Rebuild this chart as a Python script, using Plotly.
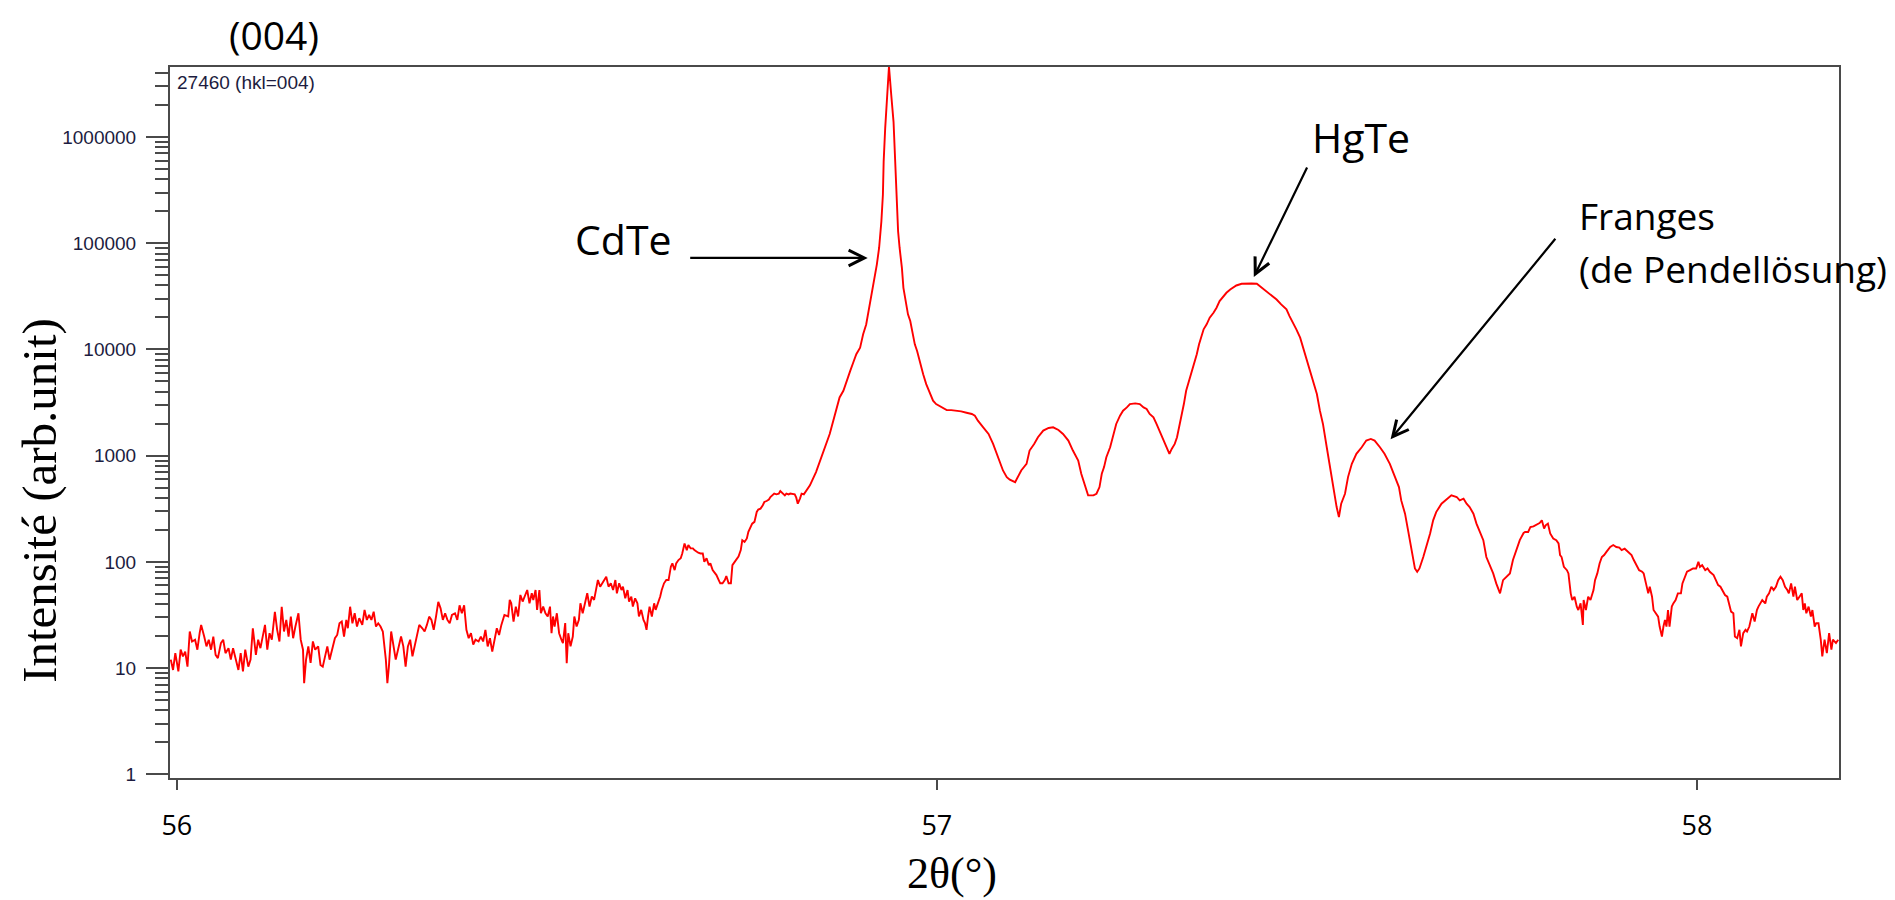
import plotly.graph_objects as go

# ---- data: 2theta (deg) and intensity (arb. unit) ----
theta_bg = [55.992, 55.995, 55.998, 56.002, 56.005, 56.008, 56.011, 56.014, 56.017, 56.020,
            56.024, 56.027, 56.030, 56.032, 56.036, 56.039, 56.042, 56.045, 56.048, 56.051,
            56.054, 56.058, 56.061, 56.064, 56.068, 56.071, 56.074, 56.077, 56.081, 56.084,
            56.087, 56.090, 56.094, 56.097, 56.100, 56.104, 56.107, 56.110, 56.113, 56.116,
            56.119, 56.122, 56.125, 56.129, 56.132, 56.135, 56.138, 56.141, 56.144, 56.147,
            56.150, 56.153, 56.156, 56.160, 56.163, 56.166, 56.1675, 56.170, 56.173, 56.176,
            56.179, 56.182, 56.186, 56.189, 56.192, 56.195, 56.198, 56.201, 56.204, 56.208,
            56.211, 56.214, 56.217, 56.220, 56.223, 56.225, 56.228, 56.231, 56.234, 56.237,
            56.240, 56.244, 56.247, 56.250, 56.253, 56.256, 56.259, 56.262, 56.265, 56.268,
            56.271, 56.275, 56.277, 56.279, 56.282, 56.285, 56.288, 56.291, 56.295, 56.298,
            56.301, 56.304, 56.307, 56.310, 56.313, 56.316, 56.319, 56.323, 56.326, 56.329,
            56.332, 56.335, 56.338, 56.341, 56.344, 56.347, 56.350, 56.353, 56.356, 56.359,
            56.362, 56.366, 56.369, 56.372, 56.375, 56.378, 56.381, 56.384, 56.387, 56.390,
            56.393, 56.397, 56.400, 56.403, 56.406, 56.409, 56.412, 56.415, 56.418, 56.421,
            56.424, 56.427, 56.431]
int_bg = [12.0, 9.6, 13.8, 9.3, 14.9, 12.9, 14.3, 10.3, 22.1, 17.8,
          18.5, 14.9, 21.3, 25.5, 19.8, 16.0, 18.5, 14.9, 19.8, 13.3,
          12.4, 17.2, 18.5, 13.8, 15.4, 12.0, 15.4, 12.4, 9.6, 13.8,
          9.3, 14.9, 10.3, 12.0, 23.7, 13.3, 18.5, 15.4, 19.8, 25.5,
          14.9, 21.3, 18.5, 33.9, 22.9, 17.8, 37.8, 22.1, 28.4, 19.8,
          30.5, 19.1, 24.6, 32.8, 18.5, 14.9, 7.2, 12.0, 16.0, 11.2,
          17.8, 14.9, 16.0, 10.7, 10.3, 12.9, 16.0, 12.0, 14.9, 19.1,
          20.5, 26.4, 27.4, 19.8, 28.4, 23.7, 37.8, 26.4, 32.8, 24.6,
          29.5, 25.5, 35.3, 28.4, 31.6, 28.4, 33.9, 24.6, 26.4, 24.6,
          22.1, 12.0, 7.2, 10.3, 22.1, 16.6, 12.0, 14.9, 19.8, 16.0,
          10.3, 16.0, 18.5, 12.9, 16.6, 19.8, 25.5, 23.7, 22.1, 25.5,
          30.5, 28.4, 22.9, 30.5, 42.0, 36.5, 28.4, 32.8, 28.4, 26.4,
          31.6, 32.8, 28.4, 39.0, 32.8, 39.0, 22.9, 19.1, 21.3, 16.6,
          18.5, 17.8, 19.8, 17.8, 22.9, 16.0, 19.1, 14.3, 18.5, 23.7,
          20.5, 25.5, 31.6]

theta_rise = [56.436, 56.438, 56.440, 56.443, 56.446, 56.449, 56.452, 56.455, 56.458, 56.461,
              56.464, 56.467, 56.469, 56.472, 56.474, 56.477, 56.479, 56.482, 56.485, 56.488,
              56.491, 56.493, 56.495, 56.497, 56.500, 56.503, 56.506, 56.508, 56.511, 56.513,
              56.515, 56.518, 56.521, 56.523, 56.526, 56.529, 56.531, 56.534, 56.537, 56.540,
              56.543, 56.546, 56.549, 56.551, 56.554, 56.557, 56.560, 56.563, 56.565, 56.568,
              56.571, 56.574, 56.577, 56.579, 56.582, 56.585, 56.587, 56.590, 56.593, 56.595,
              56.598, 56.600, 56.603, 56.606, 56.608, 56.611, 56.614, 56.616, 56.618, 56.620,
              56.622, 56.625, 56.628, 56.630, 56.633, 56.636, 56.638, 56.641, 56.644, 56.647,
              56.650, 56.652, 56.655, 56.657, 56.660, 56.663, 56.665, 56.668, 56.671, 56.673,
              56.676, 56.679, 56.681, 56.684, 56.686, 56.689, 56.692, 56.694, 56.697, 56.700,
              56.702, 56.705, 56.707, 56.710, 56.713, 56.715, 56.718, 56.721, 56.723, 56.726,
              56.729, 56.731, 56.734, 56.736, 56.739, 56.742, 56.744, 56.747, 56.750, 56.752,
              56.755, 56.757, 56.760, 56.763, 56.765, 56.768, 56.771, 56.773, 56.776, 56.779,
              56.781, 56.784, 56.786, 56.789, 56.792, 56.794, 56.797, 56.800, 56.802, 56.805,
              56.807, 56.810, 56.813, 56.815, 56.817, 56.820, 56.822, 56.825, 56.828, 56.830,
              56.833, 56.836, 56.838, 56.841]
int_rise = [30.6, 43.8, 40.7, 27.4, 37.9, 30.6, 48.8, 42.3, 47.1, 54.3,
            40.7, 50.6, 43.8, 54.3, 35.3, 54.3, 32.8, 37.9, 32.8, 30.6,
            37.9, 21.3, 30.6, 24.6, 32.8, 21.3, 18.5, 17.2, 26.5, 11.1,
            21.3, 16.0, 19.8, 30.6, 24.6, 28.4, 40.7, 32.8, 40.7, 50.6,
            37.9, 47.1, 43.8, 54.3, 67.4, 58.4, 62.8, 67.4, 72.4, 58.4,
            62.8, 54.3, 67.4, 50.6, 62.8, 54.3, 58.4, 45.4, 54.3, 42.3,
            47.1, 37.9, 45.4, 40.7, 30.6, 35.3, 28.4, 26.5, 22.9, 30.6,
            37.9, 30.6, 40.7, 35.3, 40.7, 47.1, 54.3, 62.8, 67.4, 67.4,
            90, 96.8, 83.6, 96.8, 104, 108, 120, 149, 129, 144,
            134, 134, 129, 124, 122, 120, 120, 100, 108, 93,
            96.8, 83.6, 80.6, 75.1, 67.4, 62.8, 62.8, 67.4, 73.5, 62.8,
            62.8, 93, 100, 104, 112, 129, 160, 154, 166, 192,
            213, 229, 238, 295, 311, 317, 341, 366, 374, 386,
            408, 423, 439, 432, 439, 465, 439, 423, 439, 432,
            439, 432, 432, 402, 353, 396, 439, 432, 465, 489,
            525, 585, 629, 700]

theta_cdte = [56.859, 56.864, 56.868, 56.872, 56.877, 56.881, 56.886, 56.890, 56.894, 56.899,
              56.903, 56.907, 56.911, 56.914, 56.917, 56.921, 56.924, 56.927, 56.929, 56.930,
              56.932, 56.934, 56.936, 56.937, 56.940, 56.943, 56.945, 56.947, 56.949, 56.951,
              56.954, 56.956, 56.959, 56.962, 56.965, 56.968, 56.971, 56.974, 56.978, 56.982,
              56.986, 56.991, 56.995, 56.999, 57.006, 57.013, 57.019, 57.026, 57.032, 57.039,
              57.046, 57.050, 57.054, 57.061, 57.068, 57.074, 57.079, 57.083, 57.087, 57.092,
              57.096, 57.103, 57.107, 57.111, 57.118, 57.122, 57.128, 57.133, 57.140, 57.147,
              57.153, 57.160, 57.166, 57.173, 57.179, 57.186, 57.190, 57.195, 57.199, 57.206,
              57.210, 57.214, 57.217, 57.220, 57.223, 57.228, 57.232, 57.236, 57.241, 57.245,
              57.250, 57.254, 57.261, 57.267, 57.272, 57.276, 57.280, 57.285, 57.289, 57.293,
              57.298, 57.302, 57.306]
int_cdte = [1600, 2133, 2844, 3532, 4080, 5067, 6287, 7530, 9010, 10400,
            13870, 17200, 24700, 32960, 43950, 62950, 90200, 160600, 285800, 586600,
            1205000, 2143000, 3300000, 4600000, 2480000, 1390000, 631000, 230000, 129400, 90200,
            58600, 38000, 28500, 21400, 18500, 13870, 11170, 9680, 7260, 5850,
            4710, 3800, 3290, 3060, 2844, 2685, 2685, 2650, 2610, 2536,
            2466, 2378, 2133, 1848, 1600, 1289, 1038, 837, 725, 628,
            593, 563, 650, 725, 837, 1117, 1289, 1489, 1720, 1823,
            1848, 1745, 1600, 1386, 1117, 900, 675, 506, 423, 423,
            438, 506, 675, 780, 967, 1200, 1600, 1987, 2378, 2650,
            2844, 3060, 3105, 3060, 2844, 2748, 2466, 2296, 1987, 1720,
            1386, 1200, 1038]

theta_hgte = [57.309, 57.313, 57.316, 57.319, 57.322, 57.325, 57.328, 57.332, 57.335, 57.338,
              57.342, 57.345, 57.348, 57.351, 57.355, 57.359, 57.364, 57.368, 57.372, 57.377,
              57.381, 57.386, 57.390, 57.394, 57.401, 57.407, 57.414, 57.421, 57.425, 57.429,
              57.434, 57.440, 57.447, 57.453, 57.460, 57.464, 57.469, 57.473, 57.478, 57.482,
              57.486, 57.491, 57.495, 57.500, 57.504, 57.508, 57.513, 57.517, 57.521, 57.526,
              57.529, 57.532, 57.537, 57.541, 57.546, 57.552, 57.559, 57.565, 57.571, 57.576,
              57.583, 57.589, 57.596, 57.603, 57.608, 57.611, 57.616, 57.620, 57.625, 57.629,
              57.632, 57.635, 57.640, 57.644, 57.649, 57.653, 57.657, 57.664, 57.671, 57.677,
              57.684, 57.688, 57.693, 57.697, 57.701, 57.706, 57.710, 57.714, 57.719, 57.723,
              57.728, 57.732, 57.736, 57.741, 57.745, 57.750, 57.754, 57.758, 57.767]
int_hgte = [1156, 1289, 1489, 1848, 2466, 3060, 4080, 5060, 5850, 7260,
            9010, 11170, 12910, 15460, 17220, 19900, 22150, 24680, 28500, 31770,
            34140, 36670, 38560, 39990, 41490, 41800, 41800, 41490, 39430, 37500,
            35400, 32890, 29500, 26530, 23800, 20600, 17850, 15460, 12910, 10400,
            8380, 6510, 5060, 3800, 2650, 1987, 1200, 780, 506, 328,
            264, 353, 438, 628, 837, 1040, 1200, 1386, 1436, 1386,
            1200, 1040, 837, 628, 506, 379, 284, 198, 129, 86.7,
            80.6, 86.7, 111, 138, 185, 246, 294, 353, 393, 423,
            408, 379, 393, 353, 328, 284, 229, 198, 160, 111,
            89.8, 77.8, 62.7, 50.5, 67.3, 72.4, 77.8, 104, 160]

theta_tail = [57.772, 57.774, 57.778, 57.781, 57.785, 57.788, 57.793, 57.796, 57.799, 57.801,
              57.804, 57.807, 57.811, 57.815, 57.818, 57.820, 57.822, 57.825, 57.829, 57.831,
              57.834, 57.836, 57.839, 57.842, 57.844, 57.847, 57.850, 57.851, 57.854, 57.857,
              57.860, 57.864, 57.866, 57.869, 57.872, 57.875, 57.878, 57.881, 57.886, 57.890,
              57.894, 57.898, 57.901, 57.905, 57.910, 57.914, 57.917, 57.921, 57.924, 57.928,
              57.930, 57.933, 57.936, 57.938, 57.941, 57.943, 57.946, 57.949, 57.951, 57.954,
              57.956, 57.958, 57.960, 57.962, 57.964, 57.967, 57.969, 57.972, 57.975, 57.979,
              57.981, 57.984, 57.987, 57.991, 57.995, 57.999, 58.002, 58.004, 58.007, 58.011,
              58.014, 58.017, 58.022, 58.025, 58.028, 58.031, 58.035, 58.037, 58.040, 58.043,
              58.045, 58.048, 58.050, 58.053, 58.056, 58.058, 58.061, 58.064, 58.066, 58.069,
              58.071, 58.073, 58.076, 58.079, 58.081, 58.084, 58.086, 58.090, 58.092, 58.095,
              58.098, 58.101, 58.104, 58.107, 58.110, 58.113, 58.116, 58.119, 58.121, 58.124,
              58.127, 58.129, 58.132, 58.135, 58.138, 58.140, 58.142, 58.144, 58.147, 58.150,
              58.152, 58.155, 58.157, 58.160, 58.163, 58.165, 58.168, 58.171, 58.174, 58.177,
              58.179, 58.183, 58.186]
int_tail = [187, 191, 191, 213, 216, 221, 232, 246, 206, 221,
            229, 185, 166, 160, 149, 116, 111, 89.8, 83.5, 77.8,
            50.5, 43.7, 47.0, 37.9, 35.2, 40.6, 25.5, 43.7, 35.2, 47.0,
            43.7, 54.3, 67.3, 77.8, 96.6, 111, 116, 124, 138, 144,
            138, 136, 129, 133, 124, 116, 104, 93.1, 83.5, 80.7,
            77.8, 62.7, 50.5, 58.3, 47.0, 35.2, 32.8, 30.5, 24.6, 19.8,
            24.6, 28.4, 24.6, 35.2, 24.6, 37.9, 40.6, 43.7, 50.5, 50.5,
            62.7, 72.4, 80.7, 83.5, 86.7, 86.7, 100, 89.8, 93.1, 83.5,
            86.7, 80.7, 75.1, 67.3, 60.4, 58.3, 52.4, 48.7, 47.0, 39.2,
            34.0, 32.8, 19.8, 19.1, 22.9, 16.0, 21.3, 22.9, 22.1, 24.6,
            28.4, 32.8, 27.4, 35.2, 37.9, 40.6, 43.7, 40.6, 47.0, 50.5,
            58.3, 54.3, 58.3, 67.3, 72.4, 67.3, 58.3, 54.3, 50.5, 62.7,
            47.0, 58.3, 43.7, 47.0, 50.5, 35.2, 40.6, 32.8, 37.9, 30.5,
            35.2, 24.6, 26.4, 26.4, 18.5, 12.9, 18.5, 13.8, 21.3, 14.9,
            18.5, 17.2, 18.5]

x_ticks = [56, 57, 58]
y_ticks = [1, 10, 100, 1000, 10000, 100000, 1000000]
y_ticktext = ["1", "10", "100", "1000", "10000", "100000", "1000000"]

theta = theta_bg + theta_rise + theta_cdte + theta_hgte + theta_tail
intensity = int_bg + int_rise + int_cdte + int_hgte + int_tail

minor_vals = [m * 10 ** d for d in range(0, 7) for m in range(2, 10)]

fig = go.Figure()
fig.add_trace(go.Scatter(x=theta, y=intensity, mode="lines",
                         line=dict(color="#ff0000", width=1.9), showlegend=False,
                         hoverinfo="x+y"))

axis_line = "#4a4a4a"
# the page body has an 8px margin, so the figure is 8px smaller and margins shifted
fig.update_layout(
    width=1887, height=892,
    margin=dict(l=162, r=56, t=59, b=122),
    paper_bgcolor="white", plot_bgcolor="white",
    xaxis=dict(range=[55.991, 58.187], tickvals=x_ticks, ticktext=[str(v) for v in x_ticks],
               ticks="outside", ticklen=10, tickwidth=1.5, tickcolor=axis_line,
               showline=True, mirror=True, linecolor=axis_line, linewidth=2,
               showgrid=False, zeroline=False, ticklabelstandoff=13, automargin=False,
               tickfont=dict(family="Open Sans", size=27, color="#000")),
    yaxis=dict(type="log", range=[-0.035, 6.659], tickvals=y_ticks, ticktext=y_ticktext,
               ticks="outside", ticklen=22, tickwidth=1.5, tickcolor=axis_line,
               showline=True, mirror=True, linecolor=axis_line, linewidth=2,
               showgrid=False, zeroline=False, ticklabelstandoff=6, automargin=False,
               tickfont=dict(family="Liberation Sans", size=19, color="#1c1c40"),
               minor=dict(tickvals=minor_vals, ticks="outside", ticklen=13,
                          tickwidth=1.5, tickcolor=axis_line, showgrid=False)),
)

ann = []
# titles
ann.append(dict(text="(004)", xref="paper", yref="paper", x=0.0623, y=1.046,
                xanchor="center", yanchor="middle", showarrow=False,
                font=dict(family="Open Sans", size=39, color="#000")))
ann.append(dict(text="27460 (hkl=004)", xref="paper", yref="paper", x=0.003, y=0.9785,
                xanchor="left", yanchor="middle", showarrow=False,
                font=dict(family="Liberation Sans", size=19, color="#1c1c40")))
ann.append(dict(text="Intensité (arb.unit)", xref="paper", yref="paper", x=-0.078, y=0.391,
                xanchor="center", yanchor="middle", textangle=-90, showarrow=False,
                font=dict(family="Liberation Serif", size=49, color="#000")))
ann.append(dict(text="2θ(°)", xref="paper", yref="paper", x=0.4685, y=-0.134,
                xanchor="center", yanchor="middle", showarrow=False,
                font=dict(family="Liberation Serif", size=44, color="#000")))
# labels
lab_font = dict(family="Open Sans", size=41, color="#000")
ann.append(dict(text="CdTe", xref="paper", yref="paper", x=0.272, y=0.7577,
                xanchor="center", yanchor="middle", showarrow=False, font=lab_font))
ann.append(dict(text="HgTe", xref="paper", yref="paper", x=0.7136, y=0.9011,
                xanchor="center", yanchor="middle", showarrow=False, font=lab_font))
fr_font = dict(family="Open Sans", size=37, color="#000")
ann.append(dict(text="Franges", xref="paper", yref="paper",
                x=0.843, y=0.7914, xanchor="left", yanchor="middle",
                showarrow=False, font=fr_font))
ann.append(dict(text="(de Pendellösung)", xref="paper", yref="paper",
                x=0.843, y=0.7169, xanchor="left", yanchor="middle",
                showarrow=False, font=fr_font))
# arrows (head in data coords, log10 for y on the log axis)
arrow_style = dict(showarrow=True, arrowhead=5, arrowsize=1.4, arrowwidth=2.2,
                   arrowcolor="#000", standoff=0, text="", xref="x", yref="y")
ann.append(dict(x=56.909, y=4.861, ax=-179, ay=0, **arrow_style))
ann.append(dict(x=57.417, y=4.682, ax=54, ay=-111, **arrow_style))
ann.append(dict(x=57.597, y=3.154, ax=166, ay=-202, **arrow_style))

fig.update_layout(annotations=ann)
fig.write_html("out.html")
